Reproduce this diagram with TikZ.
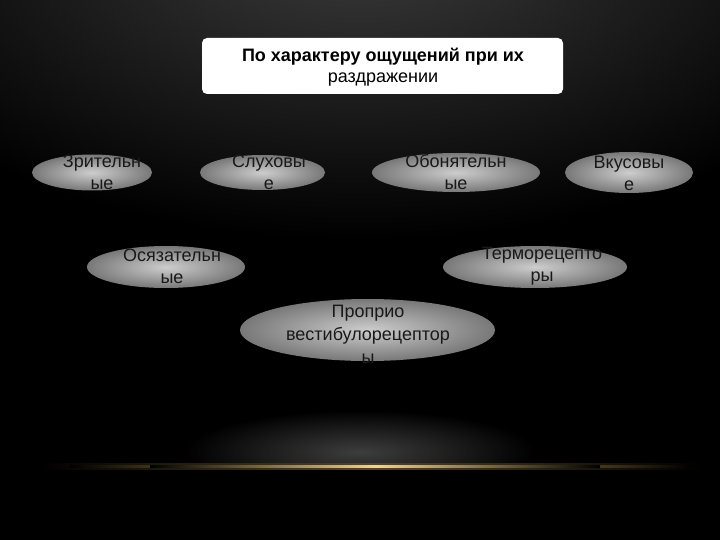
\documentclass[tikz,border=0pt]{standalone}
\usepackage{fontspec}
\setmainfont{Liberation Sans}
\usetikzlibrary{shapes.geometric}
\definecolor{ovin}{RGB}{205,205,205}
\definecolor{ovout}{RGB}{120,120,120}
\definecolor{glowgold}{RGB}{235,195,95}
\definecolor{topgray}{RGB}{60,60,60}
\tikzset{
  oval/.style={ellipse, draw=none, inner sep=0pt, shade, inner color=ovin, outer color=ovout},
  otext/.style={align=center, font=\fontsize{18}{22}\selectfont, text=black!90, inner sep=0pt},
  titlebox/.style={draw=none, fill=white, rounded corners=5pt, minimum width=361pt, minimum height=56pt, inner sep=0pt}
}
\begin{document}
\begin{tikzpicture}[x=1pt,y=-1pt]
\useasboundingbox (0,0) rectangle (720,540);
\fill[black] (0,0) rectangle (720,540);
% top glow
\begin{scope}
\clip (0,0) rectangle (720,540);
\shade[inner color=topgray, outer color=black] (360,-60) ellipse (560 and 300);
\end{scope}
% bottom glow
\shade[inner color=black!76, outer color=black] (360,452) ellipse (175 and 42);
\fill[black] (0,466) rectangle (720,540);
\shade[left color=black, right color=black, middle color=glowgold!35!black] (40,463) rectangle (700,469);
\shade[left color=black, right color=black, middle color=glowgold] (70,465) rectangle (690,467.5);
\shade[left color=black, right color=black, middle color=glowgold!70!white] (150,465.5) rectangle (600,467);

% title
\node[titlebox] (title) at (382.5,66) {};
\node[align=center, font=\fontsize{18}{20.5}\selectfont, inner sep=0pt] (titletext) at (383,67) {\textbf{По характеру ощущений при их}\\раздражении};

% ellipses
\node[oval, minimum width=120pt, minimum height=36pt] (e1) at (92,172.5) {};
\node[otext] (t1) at (102,172) {Зрительн\\ые};
\node[oval, minimum width=125pt, minimum height=35pt] (e2) at (262.5,172.5) {};
\node[otext] (t2) at (269,172) {Слуховы\\е};
\node[oval, minimum width=168pt, minimum height=39pt] (e3) at (456,172.5) {};
\node[otext] (t3) at (456,172) {Обонятельн\\ые};
\node[oval, minimum width=128pt, minimum height=41pt] (e4) at (629,172.5) {};
\node[otext] (t4) at (629,173) {Вкусовы\\е};
\node[oval, minimum width=158pt, minimum height=42pt] (e5) at (166,267) {};
\node[otext] (t5) at (172,266) {Осязательн\\ые};
\node[oval, minimum width=184pt, minimum height=42pt] (e6) at (535,267) {};
\node[otext] (t6) at (542,266) {Терморецепто\\ры};
\node[oval, minimum width=255pt, minimum height=62pt] (e7) at (367.5,330) {};
\begin{scope}
\clip (200,296) rectangle (540,362);
\node[otext, font=\fontsize{18}{23}\selectfont] (t7) at (368,334) {Проприо\\вестибулорецептор\\ы};
\end{scope}
\end{tikzpicture}
\end{document}
